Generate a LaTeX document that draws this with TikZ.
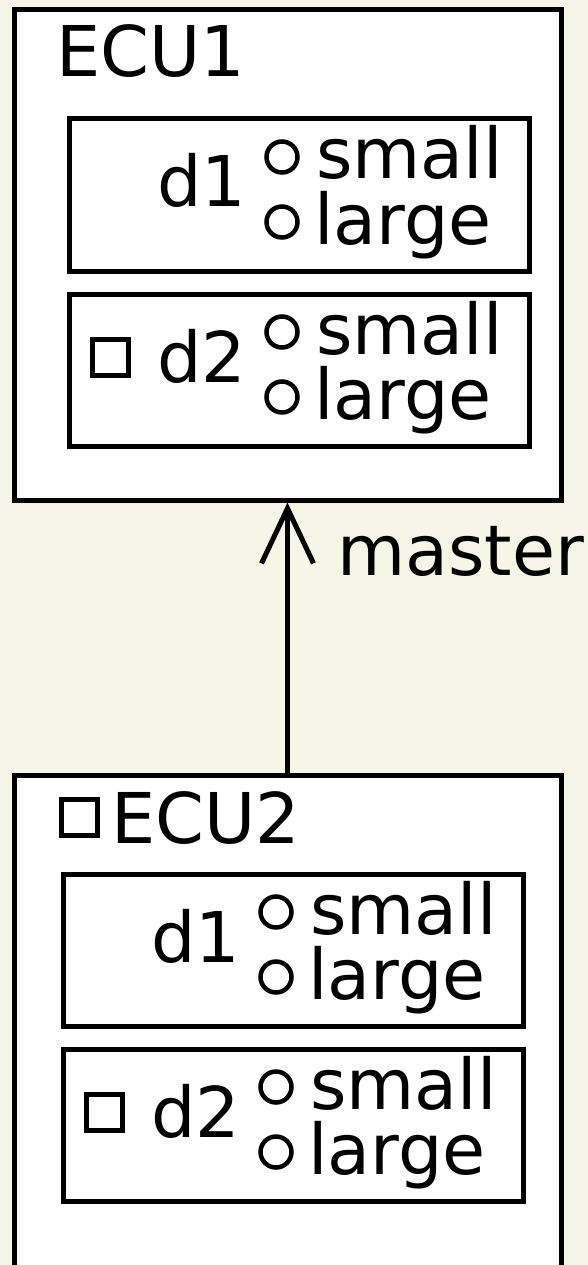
\documentclass[tikz,border=0pt]{standalone}
\usepackage{fontspec}
\setmainfont{DejaVu Sans}
\usetikzlibrary{arrows.meta}
\definecolor{bg}{RGB}{245,246,232}
\begin{document}
\begin{tikzpicture}[x=1pt,y=-1pt,
  box/.style={draw, line width=5pt, fill=white, rectangle, inner sep=0pt},
  txt/.style={anchor=base west, inner sep=0pt, font=\fontsize{70}{82}\selectfont},
  ring/.style={draw, circle, line width=4.5pt, minimum size=31pt, inner sep=0pt},
  sq/.style={draw, rectangle, line width=5pt, minimum size=36pt, inner sep=0pt}]
\fill[bg] (0,0) rectangle (588,1265);
\clip (0,0) rectangle (588,1265);
% ECU1
\node[box, minimum width=547pt, minimum height=490pt] (ecu1) at (287.5,255) {};
\node[txt] (ecu1t) at (56,77) {ECU1};
\node[box, minimum width=460pt, minimum height=152pt] (a1) at (299,195) {};
\node[txt] (a1t) at (157,207) {d1};
\node[ring] (a1c1) at (282,157) {};
\node[ring] (a1c2) at (282,222) {};
\node[txt] (a1s) at (316,179) {small};
\node[txt] (a1l) at (314,244) {large};
\node[box, minimum width=460pt, minimum height=152pt] (a2) at (299,370) {};
\node[sq] (a2q) at (110,357) {};
\node[txt] (a2t) at (157,382) {d2};
\node[ring] (a2c1) at (282,332) {};
\node[ring] (a2c2) at (282,397) {};
\node[txt] (a2s) at (316,354) {small};
\node[txt] (a2l) at (314,419) {large};
% ECU2
\node[box, minimum width=547pt, minimum height=545pt] (ecu2) at (287.5,1047.5) {};
\node[sq] (ecu2q) at (79,817) {};
\node[txt] (ecu2t) at (111,843) {ECU2};
\node[box, minimum width=460pt, minimum height=152pt] (b1) at (293,950) {};
\node[txt] (b1t) at (151,962) {d1};
\node[ring] (b1c1) at (276,912) {};
\node[ring] (b1c2) at (276,977) {};
\node[txt] (b1s) at (310,934) {small};
\node[txt] (b1l) at (308,999) {large};
\node[box, minimum width=460pt, minimum height=152pt] (b2) at (293,1125) {};
\node[sq] (b2q) at (104,1112) {};
\node[txt] (b2t) at (151,1137) {d2};
\node[ring] (b2c1) at (276,1087) {};
\node[ring] (b2c2) at (276,1152) {};
\node[txt] (b2s) at (310,1109) {small};
\node[txt] (b2l) at (308,1174) {large};
% connector
\draw[line width=5pt, -{Straight Barb[length=55pt,width=52pt]}] (ecu2.north) -- (ecu1.south);
\node[txt] (m) at (337,575) {master};
\end{tikzpicture}
\end{document}
